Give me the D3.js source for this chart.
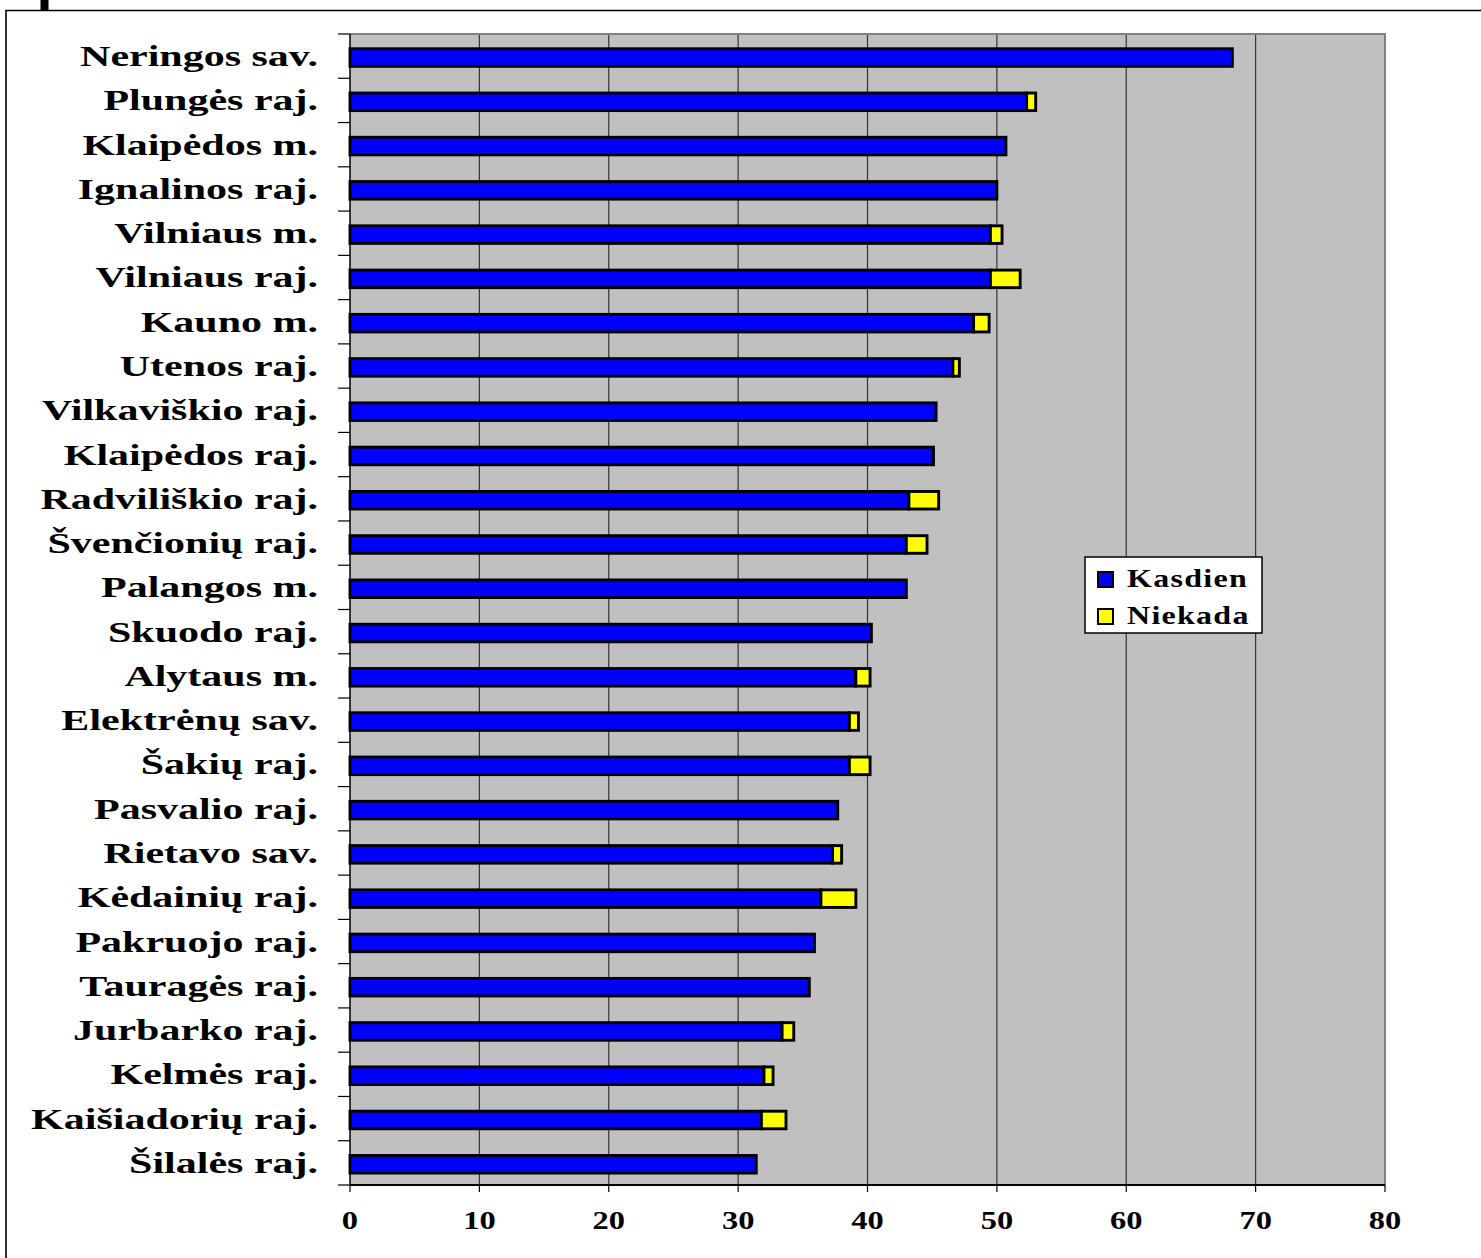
<!DOCTYPE html>
<html><head><meta charset="utf-8">
<script src="https://cdn.jsdelivr.net/npm/d3@7"></script>
<style>html,body{margin:0;background:#fff;overflow:hidden}svg{display:block}</style>
</head><body>
<script>
const categories = ["Neringos sav.","Plungės raj.","Klaipėdos m.","Ignalinos raj.","Vilniaus m.","Vilniaus raj.","Kauno m.","Utenos raj.","Vilkaviškio raj.","Klaipėdos raj.","Radviliškio raj.","Švenčionių raj.","Palangos m.","Skuodo raj.","Alytaus m.","Elektrėnų sav.","Šakių raj.","Pasvalio raj.","Rietavo sav.","Kėdainių raj.","Pakruojo raj.","Tauragės raj.","Jurbarko raj.","Kelmės raj.","Kaišiadorių raj.","Šilalės raj."];
const kasdien = [68.2,52.3,50.7,50.0,49.5,49.5,48.2,46.6,45.3,45.1,43.2,43.0,43.0,40.3,39.1,38.6,38.6,37.7,37.3,36.4,35.9,35.5,33.4,32.0,31.8,31.4];
const niekada = [0,0.7,0,0,0.9,2.3,1.2,0.5,0,0,2.3,1.6,0,0,1.1,0.7,1.6,0,0.7,2.7,0,0,0.9,0.7,1.9,0];
const xTicks = [0,10,20,30,40,50,60,70,80];
const seriesNames = ["Kasdien","Niekada"];
const seriesColors = ["#0000ff","#ffff00"];

const W = 1481, H = 1258;
const svg = d3.select("body").append("svg").attr("width", W).attr("height", H);
const font = "'Liberation Serif','Times New Roman',serif";

// outer frame (top and left edges visible)
svg.append("path").attr("d","M6,1260V10.5H1485").attr("fill","none").attr("stroke","#000").attr("stroke-width",1.6);
svg.append("rect").attr("x",40.5).attr("y",0).attr("width",8).attr("height",10).attr("fill","#000");

const plot = {l:350, r:1385, t:34, b:1185};
const x = d3.scaleLinear().domain([0,80]).range([plot.l, plot.r]);
const y = d3.scaleBand().domain(categories).range([plot.t, plot.b]).paddingInner(0.54).paddingOuter(0.27);
const yb = d3.scaleBand().domain(categories).range([plot.t, plot.b]);

// plot background
svg.append("rect").attr("x",plot.l).attr("y",plot.t).attr("width",plot.r-plot.l).attr("height",plot.b-plot.t)
  .attr("fill","#c0c0c0");
// gridlines
svg.append("g").selectAll("line").data(xTicks.slice(1,-1)).join("line")
  .attr("x1",d=>x(d)).attr("x2",d=>x(d)).attr("y1",plot.t).attr("y2",plot.b)
  .attr("stroke","#333").attr("stroke-width",1.2);
// plot border top/right
svg.append("path").attr("d",`M${plot.l},${plot.t}H${plot.r}V${plot.b}`).attr("fill","none")
  .attr("stroke","#808080").attr("stroke-width",2);

// bars
const stacked = categories.map((c,i)=>({c, segs:[{x0:0,x1:kasdien[i],k:0},{x0:kasdien[i],x1:kasdien[i]+niekada[i],k:1}]}));
const g = svg.append("g");
stacked.forEach(d=>{
  d.segs.filter(s=>s.x1>s.x0).forEach(s=>{
    g.append("rect").attr("x",x(s.x0)).attr("y",y(d.c)+2.8).attr("width",x(s.x1)-x(s.x0))
      .attr("height",y.bandwidth()-2.8).attr("fill",seriesColors[s.k]).attr("stroke","#000").attr("stroke-width",2.9);
  });
});

// axes
const xAxis = svg.append("g").attr("transform",`translate(0,${plot.b})`);
xAxis.append("line").attr("x1",plot.l).attr("x2",plot.r).attr("stroke","#000").attr("stroke-width",2);
xAxis.selectAll("line.t").data(xTicks).join("line").attr("class","t")
  .attr("x1",d=>x(d)).attr("x2",d=>x(d)).attr("y1",0).attr("y2",7).attr("stroke","#000").attr("stroke-width",1.2);
xAxis.selectAll("text").data(xTicks).join("text")
  .attr("transform",d=>`translate(${x(d)},44) scale(1.3,1)`)
  .attr("text-anchor","middle").attr("font-family",font).attr("font-weight","bold").attr("font-size",25)
  .text(d=>d);

const yAxis = svg.append("g");
yAxis.append("line").attr("x1",plot.l).attr("x2",plot.l).attr("y1",plot.t).attr("y2",plot.b).attr("stroke","#000").attr("stroke-width",1.5);
const tickYs = categories.map(c=>yb(c)).concat([plot.b]);
yAxis.selectAll("line.t").data(tickYs).join("line").attr("class","t")
  .attr("x1",338).attr("x2",plot.l).attr("y1",d=>d).attr("y2",d=>d).attr("stroke","#000").attr("stroke-width",1.2);
yAxis.selectAll("text").data(categories).join("text")
  .attr("transform",d=>`translate(318,${yb(d)+yb.bandwidth()/2+10}) scale(1.40,1)`)
  .attr("text-anchor","end").attr("font-family",font).attr("font-weight","bold").attr("font-size",30)
  .text(d=>d);

// legend
const lg = svg.append("g");
lg.append("rect").attr("x",1085).attr("y",557).attr("width",177).attr("height",76)
  .attr("fill","#fff").attr("stroke","#000").attr("stroke-width",1.5);
seriesNames.forEach((n,i)=>{
  const yy = 572 + i*37;
  lg.append("rect").attr("x",1098).attr("y",yy).attr("width",15).attr("height",15)
    .attr("fill",seriesColors[i]).attr("stroke","#000").attr("stroke-width",2);
  lg.append("text").attr("transform",`translate(1127,${yy+15}) scale(1.28,1)`)
    .attr("font-family",font).attr("font-weight","bold").attr("font-size",25).attr("letter-spacing",1)
    .text(n);
});
</script>
</body></html>
